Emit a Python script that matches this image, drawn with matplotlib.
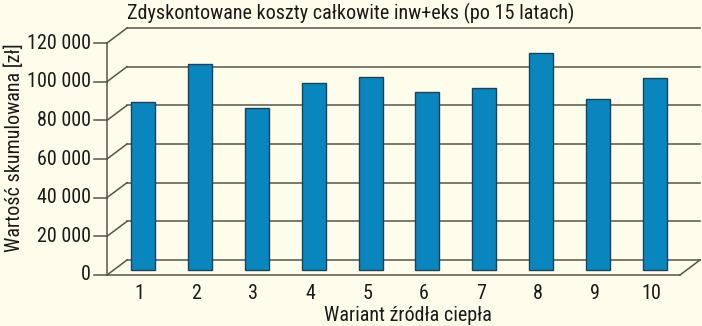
import matplotlib
matplotlib.use("Agg")
import matplotlib.pyplot as plt
from matplotlib.patches import Rectangle

categories = ["1", "2", "3", "4", "5", "6", "7", "8", "9", "10"]
values = [87000, 106500, 83600, 96600, 100000, 92200, 94300, 112000, 88300, 99500]
yticks = [0, 20000, 40000, 60000, 80000, 100000, 120000]
ytick_labels = ["0", "20 000", "40 000", "60 000", "80 000", "100 000", "120 000"]
title = "Zdyskontowane koszty całkowite inw+eks (po 15 latach)"
xlabel = "Wariant źródła ciepła"
ylabel = "Wartość skumulowana [zł]"

plt.rcParams["font.family"] = ["Roboto Condensed", "Liberation Sans", "DejaVu Sans"]
FS = 14.5
TC = "#1a1a1a"

W, H = 702, 326
fig = plt.figure(figsize=(W / 100, H / 100), dpi=100)
bg = "#FEFDEC"
fig.patch.set_facecolor(bg)
ax = fig.add_axes([0, 0, 1, 1])
ax.set_facecolor(bg)
ax.axis("off")

# pixel mapping: category i centre at px 143+(i-1)*56.9 ; value 0 at py 275, 1.9333 px per 1000
sx = 56.9
sy = 1.93333 / 1000
def X(px):
    return 1 + (px - 143) / sx
def Y(py):
    return (275 - py) / sy
ax.set_xlim(X(0), X(W))
ax.set_ylim(Y(H), Y(0))

dx = 20 / sx
dy = 15 / sy
x0 = X(107)
x_front_r = X(680)
x_back_r = x_front_r + dx
lc = "#55554a"
lw = 1.1

ax.plot([x0, x0], [0, yticks[-1]], color=lc, lw=lw, solid_capstyle="butt")
for v, lab in zip(yticks, ytick_labels):
    ax.plot([X(94), x0], [v, v], color=lc, lw=lw)
    ax.plot([x0, x0 + dx], [v, v + dy], color=lc, lw=lw)
    ax.plot([x0 + dx, x_back_r], [v + dy, v + dy], color=lc, lw=lw)
    ax.text(X(91), v, lab, ha="right", va="center", fontsize=FS, color=TC)

ax.plot([x0, x_front_r], [0, 0], color=lc, lw=lw)
ax.plot([x_front_r, x_back_r], [0, dy], color=lc, lw=lw)

bw = 24 / sx
for i, v in enumerate(values):
    c = i + 1
    ax.add_patch(Rectangle((c - bw / 2, dy / 3), bw, v, facecolor="#0A86BE",
                           edgecolor="#1d4258", lw=1.0, zorder=3))
    ax.text(c - 0.06, Y(299), categories[i], ha="center", va="baseline",
            fontsize=FS, color=TC)

ax.text(X(351), Y(13), title, ha="center", va="center", fontsize=FS, color=TC)
ax.text(X(408), Y(321), xlabel, ha="center", va="baseline", fontsize=FS, color=TC)
ax.text(X(14), Y(148), ylabel, ha="center", va="center", rotation=90, fontsize=FS, color=TC)

fig.savefig("out.png", dpi=100, facecolor=bg)
